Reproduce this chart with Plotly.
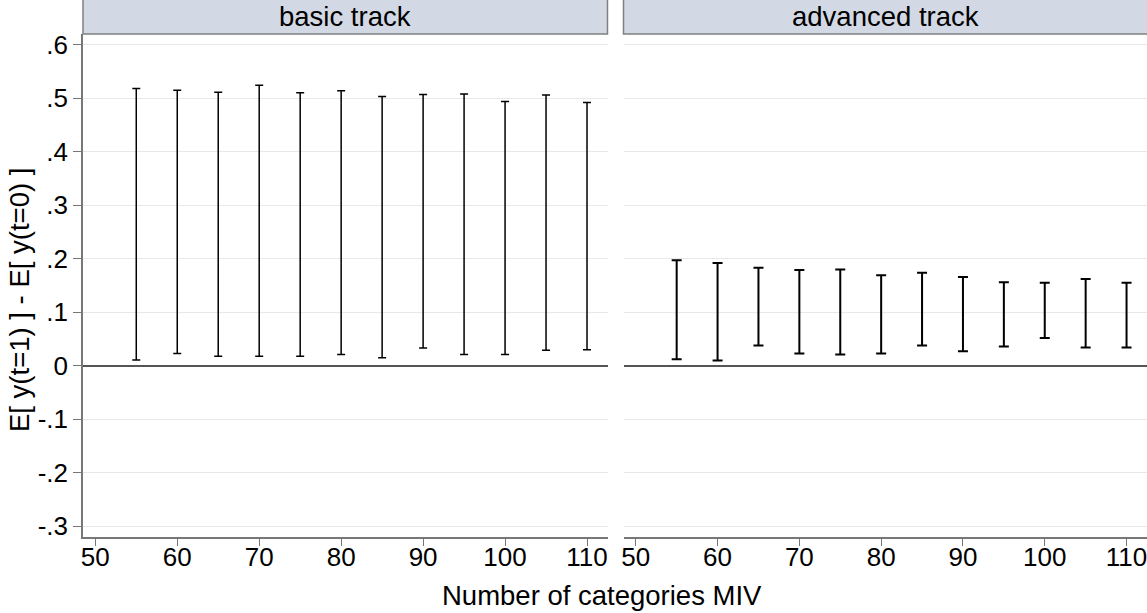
import plotly.graph_objects as go

# ---- data ----
x_vals = [55, 60, 65, 70, 75, 80, 85, 90, 95, 100, 105, 110]
basic_upper = [0.518, 0.515, 0.511, 0.524, 0.510, 0.514, 0.503, 0.507, 0.508, 0.494, 0.506, 0.492]
basic_lower = [0.011, 0.023, 0.018, 0.018, 0.018, 0.021, 0.015, 0.033, 0.021, 0.021, 0.029, 0.030]
adv_upper = [0.197, 0.192, 0.183, 0.179, 0.180, 0.169, 0.174, 0.166, 0.156, 0.155, 0.162, 0.155]
adv_lower = [0.012, 0.010, 0.038, 0.023, 0.021, 0.023, 0.038, 0.027, 0.036, 0.052, 0.034, 0.034]
x_ticks = [50, 60, 70, 80, 90, 100, 110]
y_ticks = [-0.3, -0.2, -0.1, 0, 0.1, 0.2, 0.3, 0.4, 0.5, 0.6]
y_ticklabels = ["-.3", "-.2", "-.1", "0", ".1", ".2", ".3", ".4", ".5", ".6"]
panel_titles = ["basic track", "advanced track"]
x_title = "Number of categories MIV"
y_title = "E[ y(t=1) ] - E[ y(t=0) ]"

W, H = 1147, 613
ML, MR, MT, MB = 83, 0, 34, 76
PW = W - ML - MR
PH = H - MT - MB
FONT = "Liberation Sans, Arial, sans-serif"
FS_TICK = 26
FS_TITLE = 27.5

dom1 = [0, 524.5 / PW]
dom2 = [540.5 / PW, 1]
XR = [48.5, 112.5]


def mid(u, l):
    return [(a + b) / 2 for a, b in zip(u, l)]


def half(u, l):
    return [(a - b) / 2 for a, b in zip(u, l)]


fig = go.Figure()
fig.add_trace(go.Scatter(
    x=x_vals, y=mid(basic_upper, basic_lower), mode="markers",
    marker=dict(size=1, opacity=0), showlegend=False,
    error_y=dict(type="data", array=half(basic_upper, basic_lower), symmetric=True,
                 color="black", thickness=1.5, width=4),
    xaxis="x", yaxis="y"))
fig.add_trace(go.Scatter(
    x=x_vals, y=mid(adv_upper, adv_lower), mode="markers",
    marker=dict(size=1, opacity=0), showlegend=False,
    error_y=dict(type="data", array=half(adv_upper, adv_lower), symmetric=True,
                 color="black", thickness=2, width=5),
    xaxis="x2", yaxis="y2"))

# main x axes: line + tick marks
xaxis_common = dict(range=XR, tickvals=x_ticks, ticks="outside", ticklen=7,
                    tickcolor="#777", tickwidth=1.2, showline=True, linecolor="#777",
                    linewidth=1.5, showgrid=False, zeroline=False, showticklabels=False)
# label axes: tick labels only, sitting close to the axis line
xlabel_common = dict(range=XR, tickvals=x_ticks, ticks="", showline=False,
                     showgrid=False, zeroline=False, showticklabels=True,
                     ticklabelstandoff=2, ticklabeloverflow="allow",
                     tickfont=dict(family=FONT, size=FS_TICK, color="black"))
yaxis_common = dict(range=[-0.32, 0.62], tickvals=y_ticks, showgrid=True,
                    gridcolor="#e8e8e8", gridwidth=1, zeroline=True, zerolinecolor="#555",
                    zerolinewidth=1.5)

fig.update_layout(
    width=W, height=H,
    margin=dict(l=ML, r=MR, t=MT, b=MB),
    plot_bgcolor="white", paper_bgcolor="white",
    font=dict(family=FONT, size=FS_TICK, color="black"),
    xaxis=dict(domain=dom1, anchor="y", **xaxis_common),
    xaxis2=dict(domain=dom2, anchor="y2", **xaxis_common),
    xaxis3=dict(overlaying="x", anchor="y", side="bottom", **xlabel_common),
    xaxis4=dict(overlaying="x2", anchor="y2", side="bottom", **xlabel_common),
    yaxis=dict(domain=[0, 1], anchor="x", ticktext=y_ticklabels, ticks="outside",
               ticklen=8, tickcolor="#777", tickwidth=1.2, showline=True,
               linecolor="#777", linewidth=1.5,
               tickfont=dict(family=FONT, size=FS_TICK, color="black"), **yaxis_common),
    yaxis2=dict(domain=[0, 1], anchor="x2", matches="y", showticklabels=False,
                ticks="", showline=False, **yaxis_common),
)

# invisible traces so the label axes are drawn
for xa, ya in (("x3", "y"), ("x4", "y2")):
    fig.add_trace(go.Scatter(x=[XR[0]], y=[0], mode="markers",
                             marker=dict(size=1, opacity=0), showlegend=False,
                             hoverinfo="skip", xaxis=xa, yaxis=ya))

strip_h = 34 / PH
for dom, title in zip([dom1, dom2], panel_titles):
    fig.add_shape(type="rect", xref="paper", yref="paper",
                  x0=dom[0], x1=dom[1] + (0.01 if dom[1] >= 1 else 0),
                  y0=1, y1=1 + strip_h + 0.01,
                  fillcolor="#d3d9e4", line=dict(color="#808080", width=1.5),
                  layer="above")
    fig.add_annotation(xref="paper", yref="paper", x=(dom[0] + dom[1]) / 2,
                       y=1 + strip_h / 2, text=title, showarrow=False,
                       xanchor="center", yanchor="middle",
                       font=dict(family=FONT, size=FS_TITLE, color="black"))

fig.add_annotation(xref="paper", yref="paper", x=(602 - ML) / PW, y=-(595 - (MT + PH)) / PH,
                   text=x_title, showarrow=False, xanchor="center", yanchor="middle",
                   font=dict(family=FONT, size=FS_TITLE, color="black"))
fig.add_annotation(xref="paper", yref="paper", x=(19 - ML) / PW, y=(MT + PH - 300) / PH,
                   text=y_title, showarrow=False, textangle=-90, xanchor="center",
                   yanchor="middle", font=dict(family=FONT, size=FS_TITLE, color="black"))

fig.write_html("out.html")
